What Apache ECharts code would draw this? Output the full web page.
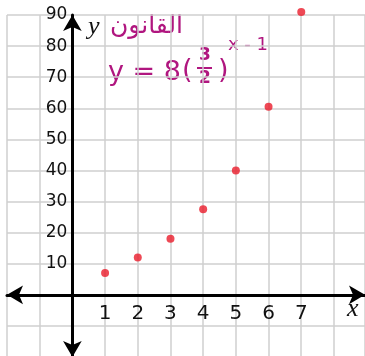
<!DOCTYPE html>
<html>
<head>
<meta charset="utf-8">
<script src="https://cdn.jsdelivr.net/npm/echarts@6/dist/echarts.min.js"></script>
<style>
  html, body { margin: 0; padding: 0; background: #fff; }
  #chart { width: 365px; height: 356px; }
</style>
</head>
<body>
<div id="chart"></div>
<script>
// n values and the plotted y = 8 (3/2)^(x-1) points
const xValues = [1, 2, 3, 4, 5, 6, 7];
const yValues = [7, 12, 18, 27.5, 40, 60.5, 91];
const xTickLabels = ['1', '2', '3', '4', '5', '6', '7'];
const yTickLabels = ['10', '20', '30', '40', '50', '60', '70', '80', '90'];

const pink = '#b0167f';
const hand = "'DejaVu Sans', sans-serif";

// grid spans x -2..8.95 over 358px and y -20..90 over 342px;
// the axes sit on zero, so shift them in from the grid edges
const gridW = 358, gridH = 342;
const xMin = -2, xMax = 8.95, yMin = -20, yMax = 90;
const yAxisShift = -(0 - xMin) * gridW / (xMax - xMin);
const xAxisShift = -(0 - yMin) * gridH / (yMax - yMin);

let chart = echarts.init(document.getElementById('chart'));
chart.setOption({
    animation: false,
    grid: { left: 7, top: 15, width: gridW, height: gridH, containLabel: false, outerBoundsMode: 'none' },
    xAxis: {
        type: 'value',
        min: xMin,
        max: xMax,
        interval: 1,
        offset: xAxisShift,
        axisLine: {
            onZero: false,
            symbol: ['arrow', 'arrow'],
            symbolSize: [14, 16],
            lineStyle: { color: '#000', width: 3 }
        },
        axisTick: { show: false },
        axisLabel: {
            margin: 9,
            fontSize: 20,
            color: '#111',
            fontFamily: hand,
            formatter: v => xTickLabels.includes(String(v)) ? String(v) : ''
        },
        splitLine: { show: true, lineStyle: { color: '#cfcfcf', width: 1.5 } }
    },
    yAxis: {
        type: 'value',
        min: yMin,
        max: yMax,
        interval: 10,
        offset: yAxisShift,
        axisLine: {
            onZero: false,
            symbol: ['arrow', 'arrow'],
            symbolSize: [14, 16],
            lineStyle: { color: '#000', width: 3 }
        },
        axisTick: { show: false },
        axisLabel: {
            margin: 5,
            fontSize: 17,
            color: '#111',
            fontFamily: hand,
            formatter: v => yTickLabels.includes(String(v)) ? String(v) : ''
        },
        splitLine: { show: true, lineStyle: { color: '#cfcfcf', width: 1.5 } }
    },
    series: [{
        type: 'scatter',
        data: xValues.map((x, i) => [x, yValues[i]]),
        symbolSize: 8,
        clip: false,
        itemStyle: { color: '#ea1c2a' }
    }],
    graphic: [
        { type: 'text', left: 88, top: 14, style: { text: 'y', fontSize: 26, fontStyle: 'italic', fontFamily: 'serif', fill: '#111' } },
        { type: 'text', left: 347, top: 296, style: { text: 'x', fontSize: 26, fontStyle: 'italic', fontFamily: 'serif', fill: '#111' } },
        { type: 'text', left: 110, top: 14, style: { text: 'القانون', fontSize: 25, fontFamily: hand, fill: pink } },
        { type: 'text', left: 108, top: 59, style: { text: 'y = 8', fontSize: 27, fontFamily: hand, fill: pink } },
        { type: 'text', left: 182, top: 57, style: { text: '(', fontSize: 27, fontFamily: hand, fill: pink } },
        { type: 'text', left: 199, top: 47, style: { text: '3', fontSize: 17, fontWeight: 'bold', fontFamily: hand, fill: pink } },
        { type: 'line', shape: { x1: 197, y1: 68, x2: 212, y2: 68 }, style: { stroke: pink, lineWidth: 2 } },
        { type: 'text', left: 199, top: 70, style: { text: '2', fontSize: 17, fontWeight: 'bold', fontFamily: hand, fill: pink } },
        { type: 'text', left: 218, top: 57, style: { text: ')', fontSize: 27, fontFamily: hand, fill: pink } },
        { type: 'text', left: 228, top: 36, style: { text: 'x - 1', fontSize: 18, fontFamily: hand, fill: pink } }
    ]
});
</script>
</body>
</html>
